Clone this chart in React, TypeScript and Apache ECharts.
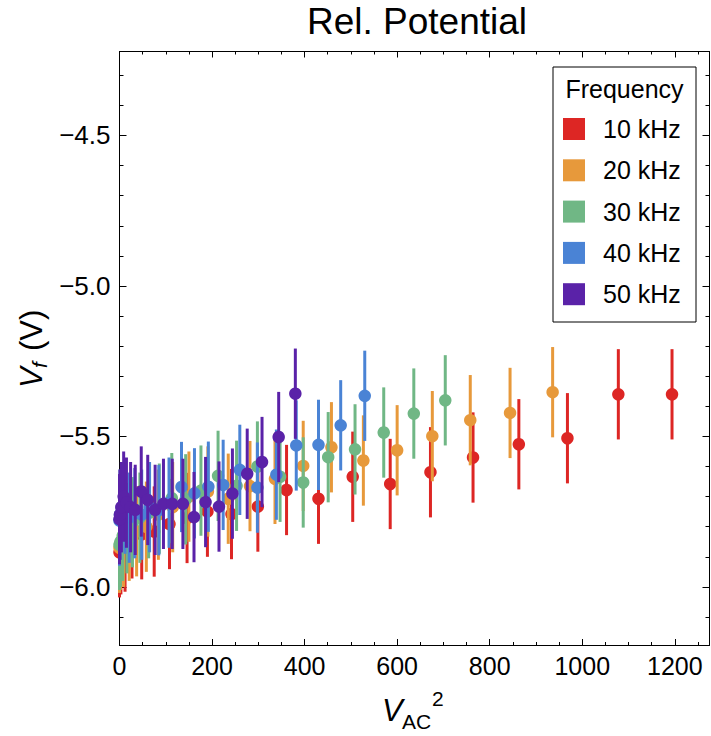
import React, { useEffect, useRef } from 'react';
import * as echarts from 'echarts';

// Legend labels and colours
const freqLabels = ['10 kHz', '20 kHz', '30 kHz', '40 kHz', '50 kHz'];
const seriesColors = ['#DD2624', '#E7993B', '#70B785', '#4A83D5', '#5A22A8'];

// 10 kHz
const x10 = [0, 3, 12, 27, 48, 75, 108, 146, 190, 242, 299, 361, 430, 504, 585, 672, 764, 863, 968, 1078, 1194];
const y10 = [-5.885, -5.875, -5.866, -5.822, -5.825, -5.816, -5.791, -5.771, -5.750, -5.758, -5.733, -5.678, -5.707, -5.634, -5.658, -5.619, -5.570, -5.526, -5.506, -5.360, -5.360];
const e10 = [0.15, 0.15, 0.15, 0.15, 0.15, 0.15, 0.15, 0.15, 0.15, 0.15, 0.15, 0.15, 0.15, 0.15, 0.15, 0.15, 0.15, 0.15, 0.15, 0.15, 0.15];

// 20 kHz
const x20 = [0, 2, 9, 21, 37, 58, 84, 115, 150, 191, 235, 282, 336, 397, 458, 527, 600, 676, 758, 844, 936];
const y20 = [-5.870, -5.860, -5.850, -5.830, -5.815, -5.800, -5.760, -5.735, -5.700, -5.683, -5.707, -5.665, -5.641, -5.598, -5.536, -5.580, -5.546, -5.499, -5.446, -5.422, -5.353];
const e20 = [0.15, 0.15, 0.15, 0.15, 0.15, 0.15, 0.15, 0.15, 0.15, 0.15, 0.15, 0.15, 0.15, 0.15, 0.15, 0.15, 0.15, 0.15, 0.15, 0.15, 0.15];

// 30 kHz
const x30 = [0, 2, 7, 16, 28, 44, 63, 86, 113, 143, 176, 213, 253, 298, 347, 397, 451, 509, 571, 636, 704];
const y30 = [-5.860, -5.850, -5.830, -5.805, -5.785, -5.770, -5.755, -5.740, -5.705, -5.709, -5.680, -5.631, -5.664, -5.600, -5.634, -5.653, -5.569, -5.543, -5.487, -5.424, -5.380];
const e30 = [0.15, 0.15, 0.15, 0.15, 0.15, 0.15, 0.15, 0.15, 0.15, 0.15, 0.15, 0.15, 0.15, 0.15, 0.15, 0.15, 0.15, 0.15, 0.15, 0.15, 0.15];

// 40 kHz
const x40 = [0, 1, 5, 12, 21, 33, 48, 65, 85, 107, 134, 162, 192, 224, 260, 298, 339, 382, 430, 478, 530];
const y40 = [-5.780, -5.760, -5.735, -5.740, -5.770, -5.755, -5.760, -5.735, -5.745, -5.720, -5.668, -5.689, -5.667, -5.661, -5.611, -5.670, -5.627, -5.530, -5.528, -5.463, -5.365];
const e40 = [0.15, 0.15, 0.15, 0.15, 0.15, 0.15, 0.15, 0.15, 0.15, 0.15, 0.15, 0.15, 0.15, 0.15, 0.15, 0.15, 0.15, 0.15, 0.15, 0.15, 0.15];

// 50 kHz
const x50 = [0, 1, 4, 9, 15, 24, 34, 47, 61, 77, 95, 114, 137, 161, 186, 215, 244, 276, 308, 344, 380];
const y50 = [-5.775, -5.760, -5.735, -5.700, -5.720, -5.735, -5.744, -5.683, -5.711, -5.744, -5.724, -5.724, -5.724, -5.768, -5.718, -5.733, -5.690, -5.624, -5.585, -5.502, -5.358];
const e50 = [0.15, 0.15, 0.15, 0.15, 0.15, 0.15, 0.15, 0.15, 0.15, 0.15, 0.15, 0.15, 0.15, 0.15, 0.15, 0.15, 0.15, 0.15, 0.15, 0.15, 0.15];

const xMin = 0;
const xMax = 1275;
const yMin = -6.193;
const yMax = -4.221;

const FONT = 'Liberation Sans, Arial, sans-serif';

export default function App() {
  const ref = useRef<HTMLDivElement>(null);

  useEffect(() => {
    document.body.style.margin = '0';
    const chart = echarts.init(ref.current as HTMLDivElement, null, { renderer: 'svg' });

    const groups = [
      { xs: x10, ys: y10, es: e10 },
      { xs: x20, ys: y20, es: e20 },
      { xs: x30, ys: y30, es: e30 },
      { xs: x40, ys: y40, es: e40 },
      { xs: x50, ys: y50, es: e50 },
    ];

    const series: any[] = [];
    groups.forEach((g, i) => {
      const color = seriesColors[i];
      const data = g.xs.map((x, j) => [x, g.ys[j], g.es[j]]);
      series.push({
        type: 'custom',
        name: freqLabels[i],
        data,
        encode: { x: 0, y: 1 },
        z: 10 + i * 2,
        itemStyle: { color },
        renderItem: (params: any, api: any) => {
          const x = api.value(0);
          const y = api.value(1);
          const e = api.value(2);
          const p1 = api.coord([x, y - e]);
          const p2 = api.coord([x, y + e]);
          return {
            type: 'line',
            shape: { x1: p1[0], y1: p1[1], x2: p2[0], y2: p2[1] },
            style: { stroke: color, lineWidth: 3 },
          };
        },
      });
      series.push({
        type: 'scatter',
        name: freqLabels[i],
        data: data.map((d) => [d[0], d[1]]),
        symbol: 'circle',
        symbolSize: 12.5,
        z: 11 + i * 2,
        itemStyle: { color, opacity: 1 },
      });
    });

    const frameLine = { show: true, onZero: false, lineStyle: { color: '#000', width: 1 } };

    const xLabelFmt = (v: number) => (Math.abs(v / 200 - Math.round(v / 200)) < 1e-6 ? String(Math.round(v)) : '');
    const yLabelFmt = (v: number) => {
      if (Math.abs(v * 2 - Math.round(v * 2)) > 1e-6) return '';
      return (v < 0 ? '\u2212' : '') + Math.abs(v).toFixed(1);
    };

    const baseX = {
      type: 'value',
      min: xMin,
      max: xMax,
      interval: 200,
      axisLine: frameLine,
      axisTick: { show: true, inside: true, length: 6, lineStyle: { color: '#000', width: 1 } },
      minorTick: { show: true, splitNumber: 4, length: 3, lineStyle: { color: '#000', width: 1 } },
      splitLine: { show: false },
    };
    const baseY = {
      type: 'value',
      min: yMin,
      max: yMax,
      splitNumber: 4,
      axisLine: frameLine,
      axisTick: { show: true, inside: true, length: 7, lineStyle: { color: '#000', width: 1 } },
      minorTick: { show: true, splitNumber: 5, length: 4, lineStyle: { color: '#000', width: 1 } },
      splitLine: { show: false },
    };

    const legendTop = 67;
    const legendGraphics: any[] = [
      {
        type: 'rect',
        shape: { x: 553, y: legendTop, width: 143, height: 255 },
        style: { fill: '#fff', stroke: '#000', lineWidth: 1 },
        z: 100,
      },
      {
        type: 'text',
        x: 624.5,
        y: 89,
        style: { text: 'Frequency', fontSize: 25, fontFamily: FONT, fill: '#000', textAlign: 'center', textVerticalAlign: 'middle' },
        z: 101,
      },
    ];
    freqLabels.forEach((lab, i) => {
      const cy = 129 + i * 41.3;
      legendGraphics.push({
        type: 'rect',
        shape: { x: 563, y: cy - 11, width: 22, height: 22 },
        style: { fill: seriesColors[i] },
        z: 101,
      });
      legendGraphics.push({
        type: 'text',
        x: 603,
        y: cy,
        style: { text: lab, fontSize: 25, fontFamily: FONT, fill: '#000', textAlign: 'left', textVerticalAlign: 'middle' },
        z: 101,
      });
    });

    chart.setOption({
      animation: false,
      backgroundColor: '#fff',
      grid: { left: 119.5, right: 1.5, top: 51.5, bottom: 91, containLabel: false, outerBoundsMode: 'none' },
      xAxis: [
        { ...baseX, position: 'bottom', axisLabel: { formatter: xLabelFmt, fontSize: 25, color: '#000', fontFamily: FONT, margin: 8 } },
        { ...baseX, position: 'top', axisLabel: { show: false } },
      ],
      yAxis: [
        { ...baseY, position: 'left', axisLabel: { formatter: yLabelFmt, fontSize: 26, color: '#000', fontFamily: FONT, margin: 9, padding: [7, 0, 0, 0] } },
        { ...baseY, position: 'right', axisLabel: { show: false } },
      ],
      series,
      graphic: [
        {
          type: 'text',
          x: 417,
          y: 3,
          style: { text: 'Rel. Potential', fontSize: 37, fontFamily: FONT, fill: '#000', textAlign: 'center', textVerticalAlign: 'top' },
        },
        {
          type: 'group',
          x: 31,
          y: 388,
          rotation: Math.PI / 2,
          children: [
            { type: 'text', x: 0, y: 0, style: { text: 'V', fontSize: 31, fontStyle: 'italic', fontFamily: FONT, fill: '#000', textAlign: 'left', textVerticalAlign: 'middle' } },
            { type: 'text', x: 20, y: 8, style: { text: 'f', fontSize: 21, fontStyle: 'italic', fontFamily: FONT, fill: '#000', textAlign: 'left', textVerticalAlign: 'middle' } },
            { type: 'text', x: 37, y: 0, style: { text: '(V)', fontSize: 31, fontFamily: FONT, fill: '#000', textAlign: 'left', textVerticalAlign: 'middle' } },
          ],
        },
        {
          type: 'group',
          x: 0,
          y: 0,
          children: [
            { type: 'text', x: 382, y: 710, style: { text: 'V', fontSize: 31, fontStyle: 'italic', fontFamily: FONT, fill: '#000', textAlign: 'left', textVerticalAlign: 'middle' } },
            { type: 'text', x: 402, y: 721, style: { text: 'AC', fontSize: 21, fontFamily: FONT, fill: '#000', textAlign: 'left', textVerticalAlign: 'middle' } },
            { type: 'text', x: 432, y: 698, style: { text: '2', fontSize: 21, fontFamily: FONT, fill: '#000', textAlign: 'left', textVerticalAlign: 'middle' } },
          ],
        },
        ...legendGraphics,
      ],
    });

    return () => {
      chart.dispose();
    };
  }, []);

  return <div ref={ref} style={{ width: 711, height: 736 }} />;
}
